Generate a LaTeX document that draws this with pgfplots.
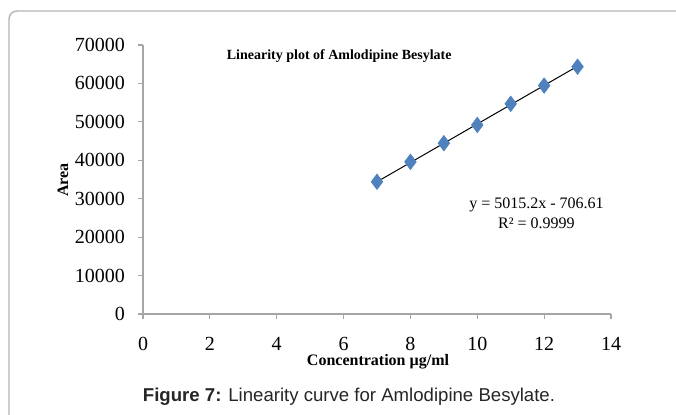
\documentclass[border=0pt]{standalone}
\usepackage{pgfplots}
\pgfplotsset{compat=1.18}
\usepackage{fontspec}
\setmainfont{Liberation Serif}
\newfontfamily\arial{Liberation Sans}
\definecolor{markblue}{HTML}{4F81BD}
\definecolor{axgray}{HTML}{A6A6A6}
\definecolor{framegray}{HTML}{B4B4B4}
\begin{document}
\begin{tikzpicture}[x=1pt,y=1pt]
\useasboundingbox (0,0) rectangle (338,207);
% frame
\draw[framegray, line width=0.7pt, rounded corners=4pt] (4.5,-10) -- (4.5,201.5) -- (360,201.5);
\begin{axis}[
  at={(71.5pt,50pt)}, anchor=south west,
  scale only axis, width=234pt, height=134.5pt,
  xmin=0, xmax=14, ymin=0, ymax=70000,
  axis x line*=bottom, axis y line*=left,
  axis line style={axgray, line width=0.6pt},
  tick style={axgray, line width=0.6pt},
  tick align=outside, major tick length=2.5pt,
  xtick={0,2,...,14}, ytick={0,10000,...,70000},
  scaled y ticks=false,
  /pgf/number format/assume math mode=true,
  /pgf/number format/1000 sep={},
  ticklabel style={font=\fontsize{10}{12}\selectfont, text=black},
  xticklabel style={yshift=-5.5pt},
  yticklabel style={xshift=-3pt},
  clip=false,
]
\addplot[black, line width=0.5pt, no marks] coordinates {(7,34399.79) (13,64490.99)};
\addplot[only marks, mark=diamond*, mark size=3.8pt, mark options={fill=markblue, draw=markblue}] coordinates {
(7,34400) (8,39600) (9,44450) (10,49200) (11,54700) (12,59450) (13,64350)};
\node[font=\bfseries\fontsize{7}{8}\selectfont] at (axis cs:5.87,67000) {Linearity plot of Amlodipine Besylate};
\node[font=\fontsize{8}{9}\selectfont] at (axis cs:11.77,28400) {y = 5015.2x - 706.61};
\node[font=\fontsize{8}{9}\selectfont] at (axis cs:11.77,23700) {R² = 0.9999};
\end{axis}
\node[font=\bfseries\fontsize{8}{9}\selectfont] at (189,26) {Concentration µg/ml};
\node[font=\bfseries\fontsize{8}{9}\selectfont, rotate=90] at (31.5,117) {Area};
\node[font=\arial\fontsize{9.3}{11}\selectfont, text=black!85] at (174.5,8.5) {\textbf{Figure 7:} Linearity curve for Amlodipine Besylate.};
\end{tikzpicture}
\end{document}
